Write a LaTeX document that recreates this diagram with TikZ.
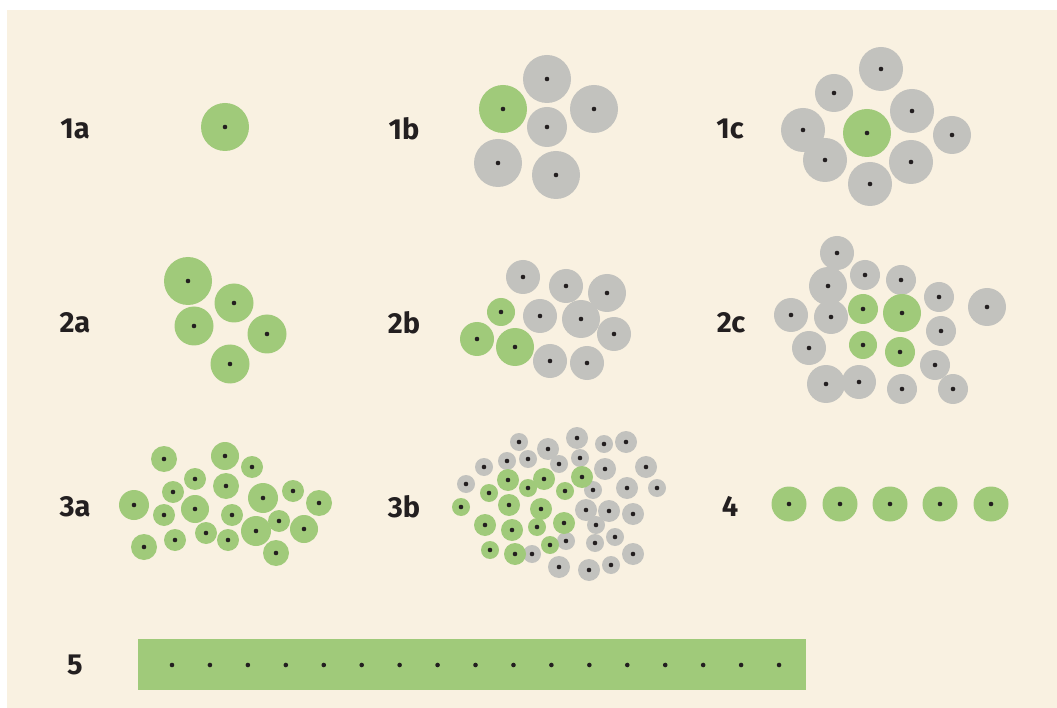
\documentclass[tikz,border=0pt]{standalone}
\usepackage{fontspec}
\setsansfont{Fira Sans}
\definecolor{paper}{HTML}{F9F1E1}
\definecolor{leaf}{HTML}{A0CA7A}
\definecolor{stone}{HTML}{C2C2BE}
\definecolor{ink}{HTML}{231F20}
\tikzset{
  lbl/.style={font=\sffamily\bfseries\fontsize{29}{29}\selectfont, text=ink, inner sep=0pt},
  pip/.style={fill=ink}
}
\begin{document}
\begin{tikzpicture}[x=1pt,y=-1pt]
\useasboundingbox (0,0) rectangle (1057,708);
\fill[paper] (7,10) rectangle (1057,708);
\node[lbl] (l1a) at (75,129) {1a};
\node[lbl] (l1b) at (404,129) {1b};
\node[lbl] (l1c) at (730,129) {1c};
\node[lbl] (l2a) at (75,323) {2a};
\node[lbl] (l2b) at (404,323) {2b};
\node[lbl] (l2c) at (731,323) {2c};
\node[lbl] (l3a) at (75,507) {3a};
\node[lbl] (l3b) at (404,507) {3b};
\node[lbl] (l4) at (730,506) {4};
\node[lbl] (l5) at (75,665) {5};
\foreach \x/\y/\r in {547/79/24,594/109/24,547/127/20,498/163/24,556/175/24,
  881/69/22,834/93/19,912/111/22,803/130/22,952/135/19,825/160/22,911/162/22,870/184/22,
  523/277/17,566/286/17,607/293/19,540/316/17,581/319/19,614/334/17,550/361/17,587/363/17,
  837/253/17,828/286/19,865/275/15,901/280/15,939/297/15,987/307/19,791/315/17,831/317/17,
  941/331/15,809/348/17,935/365/15,826/384/19,859/382/17,902/389/15,953/389/15,
  519/442/9,548/449/11,577/438/11,604/444/9,626/442/11,484/467/9,507/461/9,528/459/9,
  559/464/9,580/458/9,605/469/11,646/467/11,466/484/9,593/490/9,627/488/11,657/488/9,
  586/510/11,609/511/11,633/514/11,596/525/9,615/537/9,566/541/9,595/543/9,532/554/9,
  633/554/11,559/567/11,589/570/11,611/565/9} {
  \fill[stone] (\x,\y) circle[radius=\r];
}
\foreach \x/\y/\r in {225/127/24,503/109/24,867/133/24,
  188/281/24,234/303/19.5,194/326/19.5,267/334/19.5,230/364/19.5,
  501/312/14,477/339/17,515/347/19,
  863/309/15,902/313/19,863/345/14,900/352/15,
  164/459/13,225/456/14,252/467/11,195/479/11,173/492/11,226/486/13,263/498/15,
  293/491/11,319/503/13,134/505/15,164/515/11,195/509/14,232/515/11,279/521/11,
  304/529/14,206/533/11,228/540/11,256/531/15,175/540/11,144/547/13,276/553/13,
  508/480/11,544/479/11,582/477/11,489/493/9,528/488/9,565/491/9,461/507/9,
  509/505/11,541/509/11,485/525/11,512/530/11,537/527/9,564/523/11,550/545/9,
  490/550/9,515/554/11,
  789/504/17.5,840/504/17.5,890/504/17.5,940/504/17.5,991/504/17.5} {
  \fill[leaf] (\x,\y) circle[radius=\r];
  \fill[pip] (\x,\y) circle[radius=2.3];
}
\foreach \x/\y in {547/79,594/109,547/127,498/163,556/175,
  881/69,834/93,912/111,803/130,952/135,825/160,911/162,870/184,
  523/277,566/286,607/293,540/316,581/319,614/334,550/361,587/363,
  837/253,828/286,865/275,901/280,939/297,987/307,791/315,831/317,
  941/331,809/348,935/365,826/384,859/382,902/389,953/389,
  519/442,548/449,577/438,604/444,626/442,484/467,507/461,528/459,
  559/464,580/458,605/469,646/467,466/484,593/490,627/488,657/488,
  586/510,609/511,633/514,596/525,615/537,566/541,595/543,532/554,
  633/554,559/567,589/570,611/565} {
  \fill[pip] (\x,\y) circle[radius=2.3];
}
\fill[leaf] (138,639) rectangle (806,690);
\foreach \i in {0,...,16} {
  \fill[pip] (172+37.94*\i,665) circle[radius=2.3];
}
\end{tikzpicture}
\end{document}
